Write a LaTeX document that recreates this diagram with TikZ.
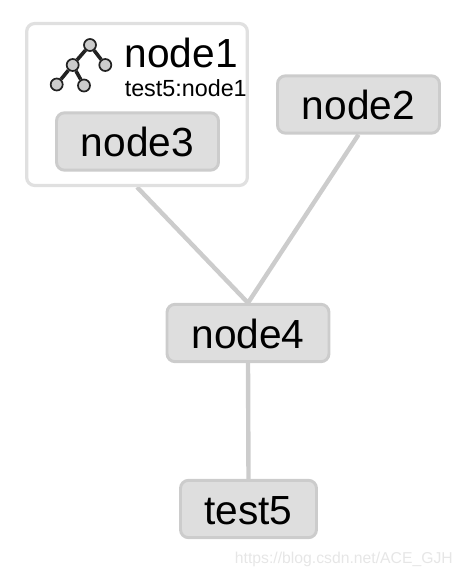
\documentclass[tikz,border=0pt]{standalone}
\usepackage{fontspec}
\setmainfont{Liberation Sans}
\usetikzlibrary{backgrounds}
\definecolor{boxfill}{HTML}{DEDEDE}
\definecolor{boxline}{HTML}{CCCCCC}
\definecolor{outerline}{HTML}{E0E0E0}
\definecolor{iconfill}{HTML}{CCCCCC}
\definecolor{iconline}{HTML}{222222}
\definecolor{marktext}{HTML}{E6E6E6}
\tikzset{
  x=0.75pt,y=-0.75pt,
  graphbox/.style={draw=boxline,fill=boxfill,line width=2.2pt,rounded corners=6pt,inner sep=0pt,
    minimum height=43pt,font=\fontsize{30.5}{34}\selectfont,text=black,text height=23pt,text depth=0pt},
  outerbox/.style={draw=outerline,fill=white,line width=2.4pt,rounded corners=6pt,inner sep=0pt},
  edgeline/.style={draw=boxline,line width=3.3pt},
  icondot/.style={circle,draw=iconline,fill=iconfill,line width=1.3pt,minimum size=9pt,inner sep=0pt},
  iconlink/.style={draw=iconline,line width=2.7pt},
}
\begin{document}
\begin{tikzpicture}
\useasboundingbox (0,0) rectangle (462,574);
\node[outerbox,minimum width=165.5pt,minimum height=121.5pt] (node1) at (137,104.5) {};
\node[graphbox,minimum width=121.5pt] (node3) at (137.5,141.5) {node3};
\node[graphbox,minimum width=121.5pt] (node2) at (358.5,104.5) {node2};
\node[graphbox,minimum width=121.5pt] (node4) at (248,333) {node4};
\node[graphbox,minimum width=102pt] (test5) at (248.5,509) {test5};
\node[anchor=base west,inner sep=0pt,font=\fontsize{30.5}{34}\selectfont] (title) at (124.5,68) {node1};
\node[anchor=base west,inner sep=0pt,font=\fontsize{17.5}{20}\selectfont] (subtitle) at (124.5,97) {test5:node1};
\node[anchor=base east,inner sep=0pt,font=\fontsize{11.8}{14}\selectfont,text=marktext] (mark) at (453,563) {https://blog.csdn.net/ACE\_GJH};
\node[icondot] (a) at (90,45) {};
\node[icondot] (b) at (72.7,65) {};
\node[icondot] (c) at (105.3,65) {};
\node[icondot] (d) at (56.7,84.5) {};
\node[icondot] (e) at (84,85.5) {};
\draw[iconlink] (a) -- (b);
\draw[iconlink] (a) -- (c);
\draw[iconlink] (b) -- (d);
\draw[iconlink] (b) -- (e);
\begin{scope}[on background layer]
\draw[edgeline] (node1.south) -- (node4.north);
\draw[edgeline] (node2.south) -- (node4.north);
\draw[edgeline] (node4.south) -- (test5.north);
\end{scope}
\end{tikzpicture}
\end{document}
